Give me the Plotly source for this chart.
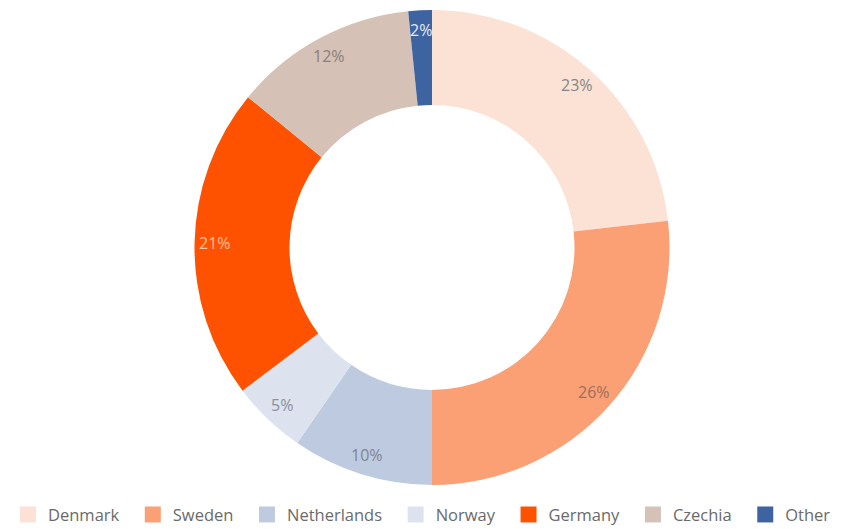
import math
import plotly.graph_objects as go

countries = ["Denmark", "Sweden", "Netherlands", "Norway", "Germany", "Czechia", "Other"]
shares = [23.2, 26.8, 9.6, 5.1, 21.2, 12.5, 1.6]
share_labels = ["23%", "26%", "10%", "5%", "21%", "12%", "2%"]
colors = ["#FCE1D5", "#FB9F74", "#BECADF", "#DDE3EE", "#FF5200", "#D5C1B6", "#3E63A1"]
text_colors = ["#858585", "#9a6f5c", "#7f8596", "#8a8e9e", "#FFC2A4", "#8a7f7a", "#E4EBF7"]

W, H = 850, 529
M_L, M_R, M_T, M_B = 14, 0, 10, 44
PLOT_W = W - M_L - M_R
PLOT_H = H - M_T - M_B
R = min(PLOT_W, PLOT_H) / 2
LABEL_R = 0.915 * R

fig = go.Figure()
fig.add_trace(go.Pie(
    labels=countries,
    values=shares,
    textinfo="none",
    marker=dict(colors=colors, line=dict(width=0)),
    hole=0.6,
    sort=False,
    direction="clockwise",
    rotation=0,
    showlegend=False,
    hoverinfo="label+percent",
))

# legend entries (larger square swatches)
for i, (name, col) in enumerate(zip(countries, colors)):
    pad = "\u00a0\u00a0" if i < len(countries) - 1 else ""
    fig.add_trace(go.Scatter(
        x=[None], y=[None], mode="markers", name=name + pad,
        marker=dict(symbol="square", size=20, color=col),
        showlegend=True,
    ))

# percentage labels placed towards the outer edge of each slice
total = sum(shares)
cum = 0.0
for val, lab, tc in zip(shares, share_labels, text_colors):
    mid = (cum + val / 2) / total * 2 * math.pi
    cum += val
    dx = LABEL_R * math.sin(mid)
    dy = LABEL_R * math.cos(mid)
    fig.add_annotation(
        x=0.5 + dx / PLOT_W, y=0.5 + dy / PLOT_H,
        xref="paper", yref="paper",
        text=lab, showarrow=False,
        font=dict(family="Open Sans", size=16, color=tc),
        xanchor="center", yanchor="middle",
    )

fig.update_layout(
    width=W, height=H,
    margin=dict(l=M_L, r=M_R, t=M_T, b=M_B),
    paper_bgcolor="white",
    plot_bgcolor="white",
    xaxis=dict(visible=False),
    yaxis=dict(visible=False),
    showlegend=True,
    legend=dict(
        orientation="h",
        xref="container", yref="container",
        x=8 / W, xanchor="left",
        y=0.027, yanchor="middle",
        font=dict(family="Open Sans", size=16.5, color="#6a6a6a"),
        itemsizing="trace",
        traceorder="normal",
    ),
)

fig.write_html("out.html", config={"displayModeBar": False},
               post_script="document.body.style.margin='0';")
